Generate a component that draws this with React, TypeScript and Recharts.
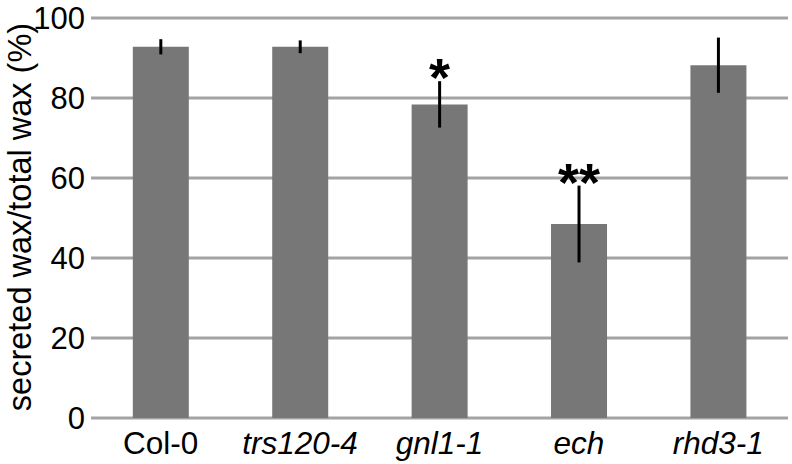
import React from 'react';
import { BarChart, Bar, XAxis, YAxis, CartesianGrid, ErrorBar, LabelList, Label } from 'recharts';

const categories = ['Col-0', 'trs120-4', 'gnl1-1', 'ech', 'rhd3-1'];
const italicFlags = [false, true, true, true, true];
const means = [92.8, 92.8, 78.4, 48.5, 88.2];
const errors = [1.9, 1.6, 5.8, 9.6, 6.9];
const marks = ['', '', '*', '**', ''];
const yTicks = [0, 20, 40, 60, 80, 100];

const data = categories.map((name, i) => ({
  name,
  value: means[i],
  err: errors[i],
  mark: marks[i],
  italic: italicFlags[i],
}));

const FONT = '"Liberation Sans", Arial, Helvetica, sans-serif';

const XTick = (props: any) => {
  const { x, y, payload, index } = props;
  const it = italicFlags[index];
  return (
    <text x={x} y={y} dy="0.71em" textAnchor="middle" fontFamily={FONT} fontSize={31.5}
      fontStyle={it ? 'italic' : 'normal'} fill="#000">
      {payload.value}
    </text>
  );
};

const MarkLabel = (props: any) => {
  const { x, y, width, height, index } = props;
  const d = data[index];
  if (!d || !d.mark) return null;
  const pxPerUnit = height / d.value;
  const errTop = y - d.err * pxPerUnit;
  return (
    <text x={x + width / 2} y={errTop + 15} textAnchor="middle" fontFamily={FONT}
      fontSize={54} fontWeight="bold" fill="#000">
      {d.mark}
    </text>
  );
};

const YLabel = () => {
  const cx = 20;
  const cy = 217;
  return (
    <text x={cx} y={cy} transform={`rotate(-90, ${cx}, ${cy})`} textAnchor="middle"
      dominantBaseline="central" fontFamily={FONT} fontSize={32.5} fill="#000">
      secreted wax/total wax (%)
    </text>
  );
};

export default function App() {
  return (
    <div style={{ position: 'absolute', left: 0, top: 0, width: 792, height: 464, background: '#fff' }}>
      <BarChart width={792} height={464} data={data}
        margin={{ top: 18, right: 4, bottom: 0, left: 0 }} barCategoryGap="30%">
        <CartesianGrid vertical={false} stroke="#a3a3a3" strokeWidth={3} />
        <XAxis dataKey="name" axisLine={false} tickLine={false} tickSize={6} tickMargin={8}
          tick={<XTick />} interval={0} height={46} />
        <YAxis domain={[0, 100]} ticks={yTicks} axisLine={false} tickLine={false} width={91}
          tickSize={6} tickMargin={0} interval={0}
          tick={{ fontSize: 31, fontFamily: FONT, fill: '#000' }}>
          <Label content={<YLabel />} />
        </YAxis>
        <Bar dataKey="value" fill="#777777" isAnimationActive={false}>
          <ErrorBar dataKey="err" width={0} stroke="#000" strokeWidth={3} />
          <LabelList dataKey="mark" content={<MarkLabel />} />
        </Bar>
      </BarChart>
    </div>
  );
}
